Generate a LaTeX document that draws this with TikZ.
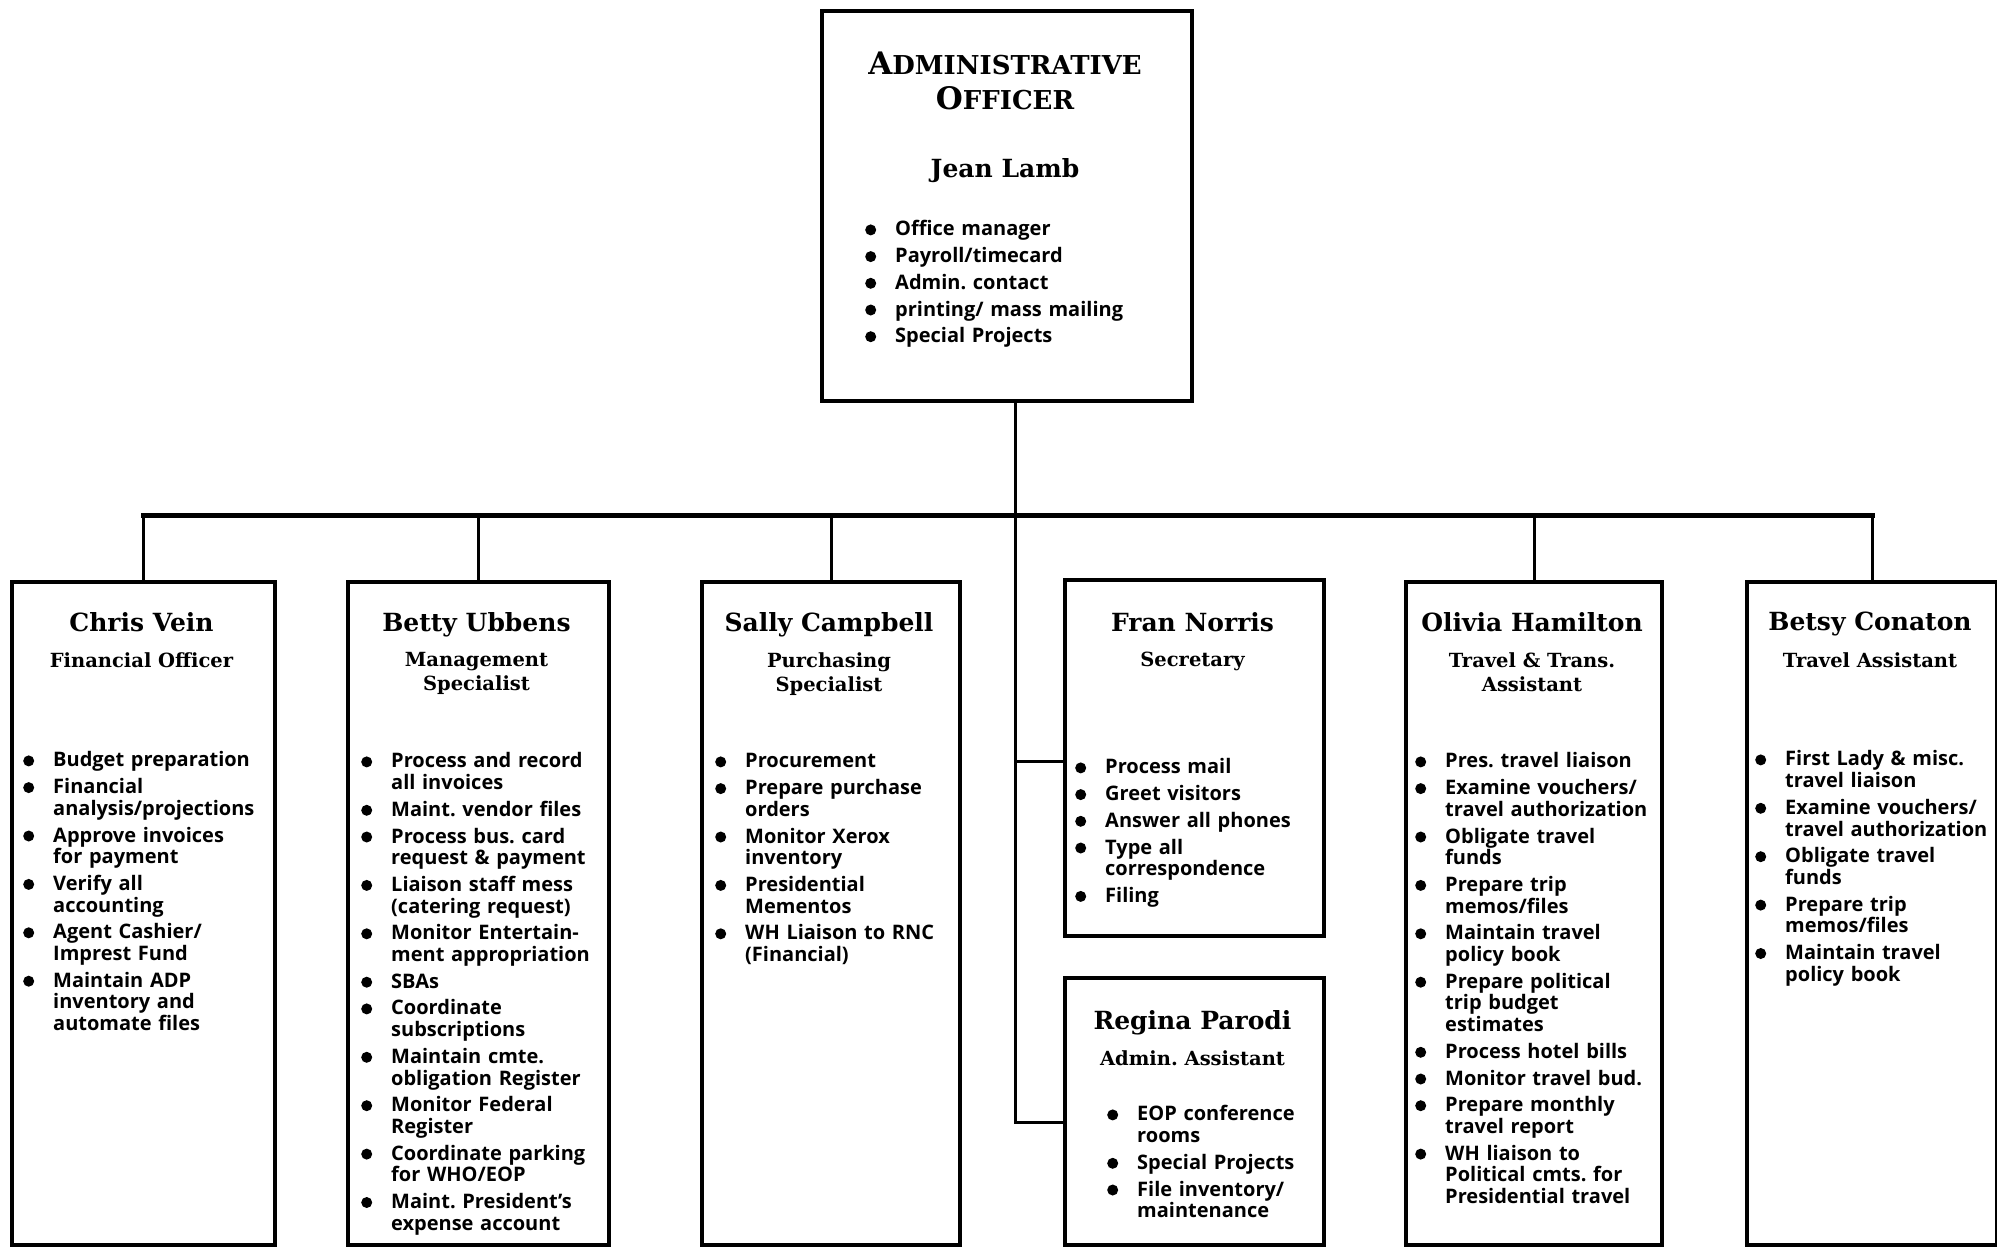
\documentclass[tikz,border=0pt]{standalone}
\usepackage{fontspec}
\setmainfont{Open Sans}
\newfontfamily\schoolfont{DejaVu Serif}
\usetikzlibrary{positioning}
\frenchspacing

\newcommand\dutydot{\tikz[baseline=-6pt]\fill (0pt,0pt) circle (5.5pt);}
\newcommand\duty[1]{\par\def\\{\hfil\break}\parskip=5pt\baselineskip=21.7pt\hangindent=30pt\hangafter=1\noindent\makebox[30pt][l]{\dutydot}#1}
\newcommand\capsc[2]{{\fontsize{31}{35}\selectfont #1}#2}

\tikzset{
  box/.style={draw, line width=4pt, inner sep=0pt, anchor=north west},
  wire/.style={draw, line width=3pt},
  bus/.style={draw, line width=5pt, line cap=rect},
  head/.style={font={\schoolfont\bfseries\fontsize{26}{35}\selectfont}, align=center, inner sep=0pt, anchor=north},
  who/.style={font={\schoolfont\bfseries\fontsize{25}{28}\selectfont}, inner sep=0pt, anchor=north},
  post/.style={font={\schoolfont\bfseries\fontsize{19.5}{24}\selectfont\frenchspacing}, align=center, inner sep=0pt, anchor=north},
  duties/.style={font={\bfseries\fontsize{20}{21.7}\selectfont\frenchspacing}, text width=260pt, align=left, inner sep=0pt, anchor=north west},
}

\begin{document}
\begin{tikzpicture}[x=1pt, y=-1pt]
  \useasboundingbox (0,0) rectangle (1997,1248);

  \node[box, minimum width=370pt, minimum height=390pt] (boss) at (820,9) {};
  \node[head] (bossT) at (1005,52) {\capsc{A}{DMINISTRATIVE}\\\capsc{O}{FFICER}};
  \node[who] (bossN) at (1005,158) {Jean Lamb};
  \node[duties] (bossD) at (865,209) {\duty{Office manager}\duty{Payroll/timecard}\duty{Admin. contact}\duty{printing/ mass mailing}\duty{Special Projects}\par};

  \node[box, minimum width=263pt, minimum height=663pt] (chris) at (10,580) {};
  \node[who] (chrisN) at (141.5,612) {Chris Vein};
  \node[post] (chrisT) at (141.5,652) {Financial Officer};
  \node[duties] (chrisD) at (23,740) {\duty{Budget preparation}\duty{Financial\\analysis/projections}\duty{Approve invoices\\for payment}\duty{Verify all\\accounting}\duty{Agent Cashier/\\Imprest Fund}\duty{Maintain ADP\\inventory and\\automate files}\par};

  \node[box, minimum width=261pt, minimum height=663pt] (betty) at (346,580) {};
  \node[who] (bettyN) at (476.5,612) {Betty Ubbens};
  \node[post] (bettyT) at (476.5,652) {Management\\Specialist};
  \node[duties] (bettyD) at (361,741) {\duty{Process and record\\all invoices}\duty{Maint. vendor files}\duty{Process bus. card\\request \& payment}\duty{Liaison staff mess\\(catering request)}\duty{Monitor Entertain-\\ment appropriation}\duty{SBAs}\duty{Coordinate\\subscriptions}\duty{Maintain cmte.\\obligation Register}\duty{Monitor Federal\\Register}\duty{Coordinate parking\\for WHO/EOP}\duty{Maint. President's\\expense account}\par};

  \node[box, minimum width=258pt, minimum height=663pt] (sally) at (700,580) {};
  \node[who] (sallyN) at (829,612) {Sally Campbell};
  \node[post] (sallyT) at (829,652) {Purchasing\\Specialist};
  \node[duties] (sallyD) at (715,741) {\duty{Procurement}\duty{Prepare purchase\\orders}\duty{Monitor Xerox\\inventory}\duty{Presidential\\Mementos}\duty{WH Liaison to RNC\\(Financial)}\par};

  \node[box, minimum width=259pt, minimum height=356pt] (fran) at (1063,578) {};
  \node[who] (franN) at (1192.5,612) {Fran Norris};
  \node[post] (franT) at (1192.5,652) {Secretary};
  \node[duties] (franD) at (1075,747) {\duty{Process mail}\duty{Greet visitors}\duty{Answer all phones}\duty{Type all\\correspondence}\duty{Filing}\par};

  \node[box, minimum width=259pt, minimum height=267pt] (regina) at (1063,976) {};
  \node[who] (reginaN) at (1192.5,1010) {Regina Parodi};
  \node[post] (reginaT) at (1192.5,1050) {Admin. Assistant};
  \node[duties] (reginaD) at (1107,1094) {\duty{EOP conference\\rooms}\duty{Special Projects}\duty{File inventory/\\maintenance}\par};

  \node[box, minimum width=256pt, minimum height=663pt] (olivia) at (1404,580) {};
  \node[who] (oliviaN) at (1532,612) {Olivia Hamilton};
  \node[post] (oliviaT) at (1532,652) {Travel \& Trans.\\Assistant};
  \node[duties] (oliviaD) at (1415,741) {\duty{Pres. travel liaison}\duty{Examine vouchers/\\travel authorization}\duty{Obligate travel\\funds}\duty{Prepare trip\\memos/files}\duty{Maintain travel\\policy book}\duty{Prepare political\\trip budget\\estimates}\duty{Process hotel bills}\duty{Monitor travel bud.}\duty{Prepare monthly\\travel report}\duty{WH liaison to\\Political cmts. for\\Presidential travel}\par};

  \node[box, minimum width=250pt, minimum height=663pt] (betsy) at (1745,580) {};
  \node[who] (betsyN) at (1870,612) {Betsy Conaton};
  \node[post] (betsyT) at (1870,652) {Travel Assistant};
  \node[duties] (betsyD) at (1755,739) {\duty{First Lady \& misc.\\travel liaison}\duty{Examine vouchers/\\travel authorization}\duty{Obligate travel\\funds}\duty{Prepare trip\\memos/files}\duty{Maintain travel\\policy book}\par};

  \coordinate (hub) at (1015,515);
  \coordinate (franJ) at ([yshift=-3pt]fran.west);
  \coordinate (reginaJ) at ([yshift=-11pt]regina.west);
  \path[wire] (boss.south -| hub) -- (hub) -- (hub |- reginaJ) -- (reginaJ);
  \path[wire] (hub |- franJ) -- (franJ);
  \path[bus] (chris.north |- hub) -- (betsy.north |- hub);
  \foreach \n in {chris,betty,sally,olivia,betsy}
    \path[wire] (\n.north |- hub) -- (\n.north);
\end{tikzpicture}
\end{document}
